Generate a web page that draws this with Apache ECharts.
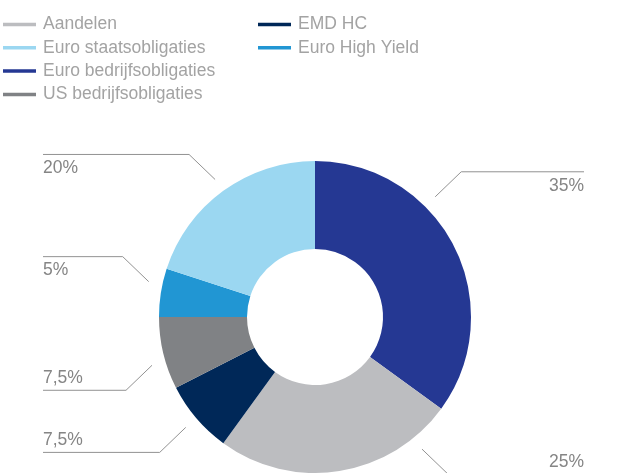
<!DOCTYPE html>
<html>
<head>
<meta charset="utf-8">
<script src="https://cdn.jsdelivr.net/npm/echarts@6/dist/echarts.min.js"></script>
<style>
html,body{margin:0;padding:0;background:#fff;}
#chart{width:634px;height:473px;}
</style>
</head>
<body>
<div id="chart"></div>
<script>
// Data (clockwise from top)
const categories = ['Euro bedrijfsobligaties', 'Aandelen', 'EMD HC', 'US bedrijfsobligaties', 'Euro High Yield', 'Euro staatsobligaties'];
const values = [35, 25, 7.5, 7.5, 5, 20];
const legendLeft = ['Aandelen', 'Euro staatsobligaties', 'Euro bedrijfsobligaties', 'US bedrijfsobligaties'];
const legendRight = ['EMD HC', 'Euro High Yield'];

// Styles
const sliceColors = {
  'Euro bedrijfsobligaties': '#253893',
  'Aandelen': '#bcbdc0',
  'EMD HC': '#002858',
  'US bedrijfsobligaties': '#808285',
  'Euro High Yield': '#2196d3',
  'Euro staatsobligaties': '#9bd7f1'
};
const CX = 315, CY = 317;
const R_IN = 68, R_OUT = 156, R_ANCHOR = 170;
const LEFT_EDGE = 43, RIGHT_EDGE = 584;
const anchorShift = [-18, -30, 0, -3, 3, 0];
const FONT = '"Liberation Sans", Arial, Helvetica, sans-serif';

const chart = echarts.init(document.getElementById('chart'), null, {renderer: 'canvas'});

const legendCommon = {
  orient: 'vertical',
  top: 15.5,
  padding: 0,
  itemWidth: 33,
  itemHeight: 3.5,
  itemGap: 5.3,
  icon: 'rect',
  selectedMode: false,
  textStyle: {color: '#a3a3a3', fontSize: 17.5, fontFamily: FONT, lineHeight: 18, padding: [0, 0, 0, 2]}
};

const option = {
  animation: false,
  backgroundColor: '#ffffff',
  legend: [
    Object.assign({}, legendCommon, {left: 3, data: legendLeft}),
    Object.assign({}, legendCommon, {left: 258, data: legendRight})
  ],
  series: [{
    type: 'pie',
    radius: [R_IN, R_OUT],
    center: [CX, CY],
    startAngle: 90,
    clockwise: true,
    avoidLabelOverlap: false,
    emphasis: {disabled: true},
    itemStyle: {borderWidth: 0},
    data: categories.map((c, i) => ({name: c, value: values[i], itemStyle: {color: sliceColors[c]}})),
    label: {
      show: true,
      position: 'outside',
      color: '#858585',
      fontSize: 17.5,
      fontFamily: FONT,
      formatter: p => String(p.value).replace('.', ',') + '%'
    },
    labelLine: {show: true, length: 10, length2: 10, lineStyle: {color: '#929292', width: 1}},
    labelLayout: function (params) {
      const p = params.labelLinePoints;
      if (!p) return {};
      const ang = Math.atan2(p[0][1] - CY, p[0][0] - CX) + (anchorShift[params.dataIndex] || 0) * Math.PI / 180;
      const sx = CX + R_ANCHOR * Math.cos(ang);
      const sy = CY + R_ANCHOR * Math.sin(ang);
      const right = sx > CX;
      const up = sy < CY;
      const bx = sx + (right ? 26 : -26);
      const by = sy + (up ? -25 : 25);
      const ex = right ? RIGHT_EDGE : LEFT_EDGE;
      return {
        x: ex,
        y: by + (up ? 14 : -12),
        align: right ? 'right' : 'left',
        verticalAlign: 'middle',
        labelLinePoints: [[sx, sy], [bx, by], [ex, by]]
      };
    }
  }]
};
chart.setOption(option);
</script>
</body>
</html>
